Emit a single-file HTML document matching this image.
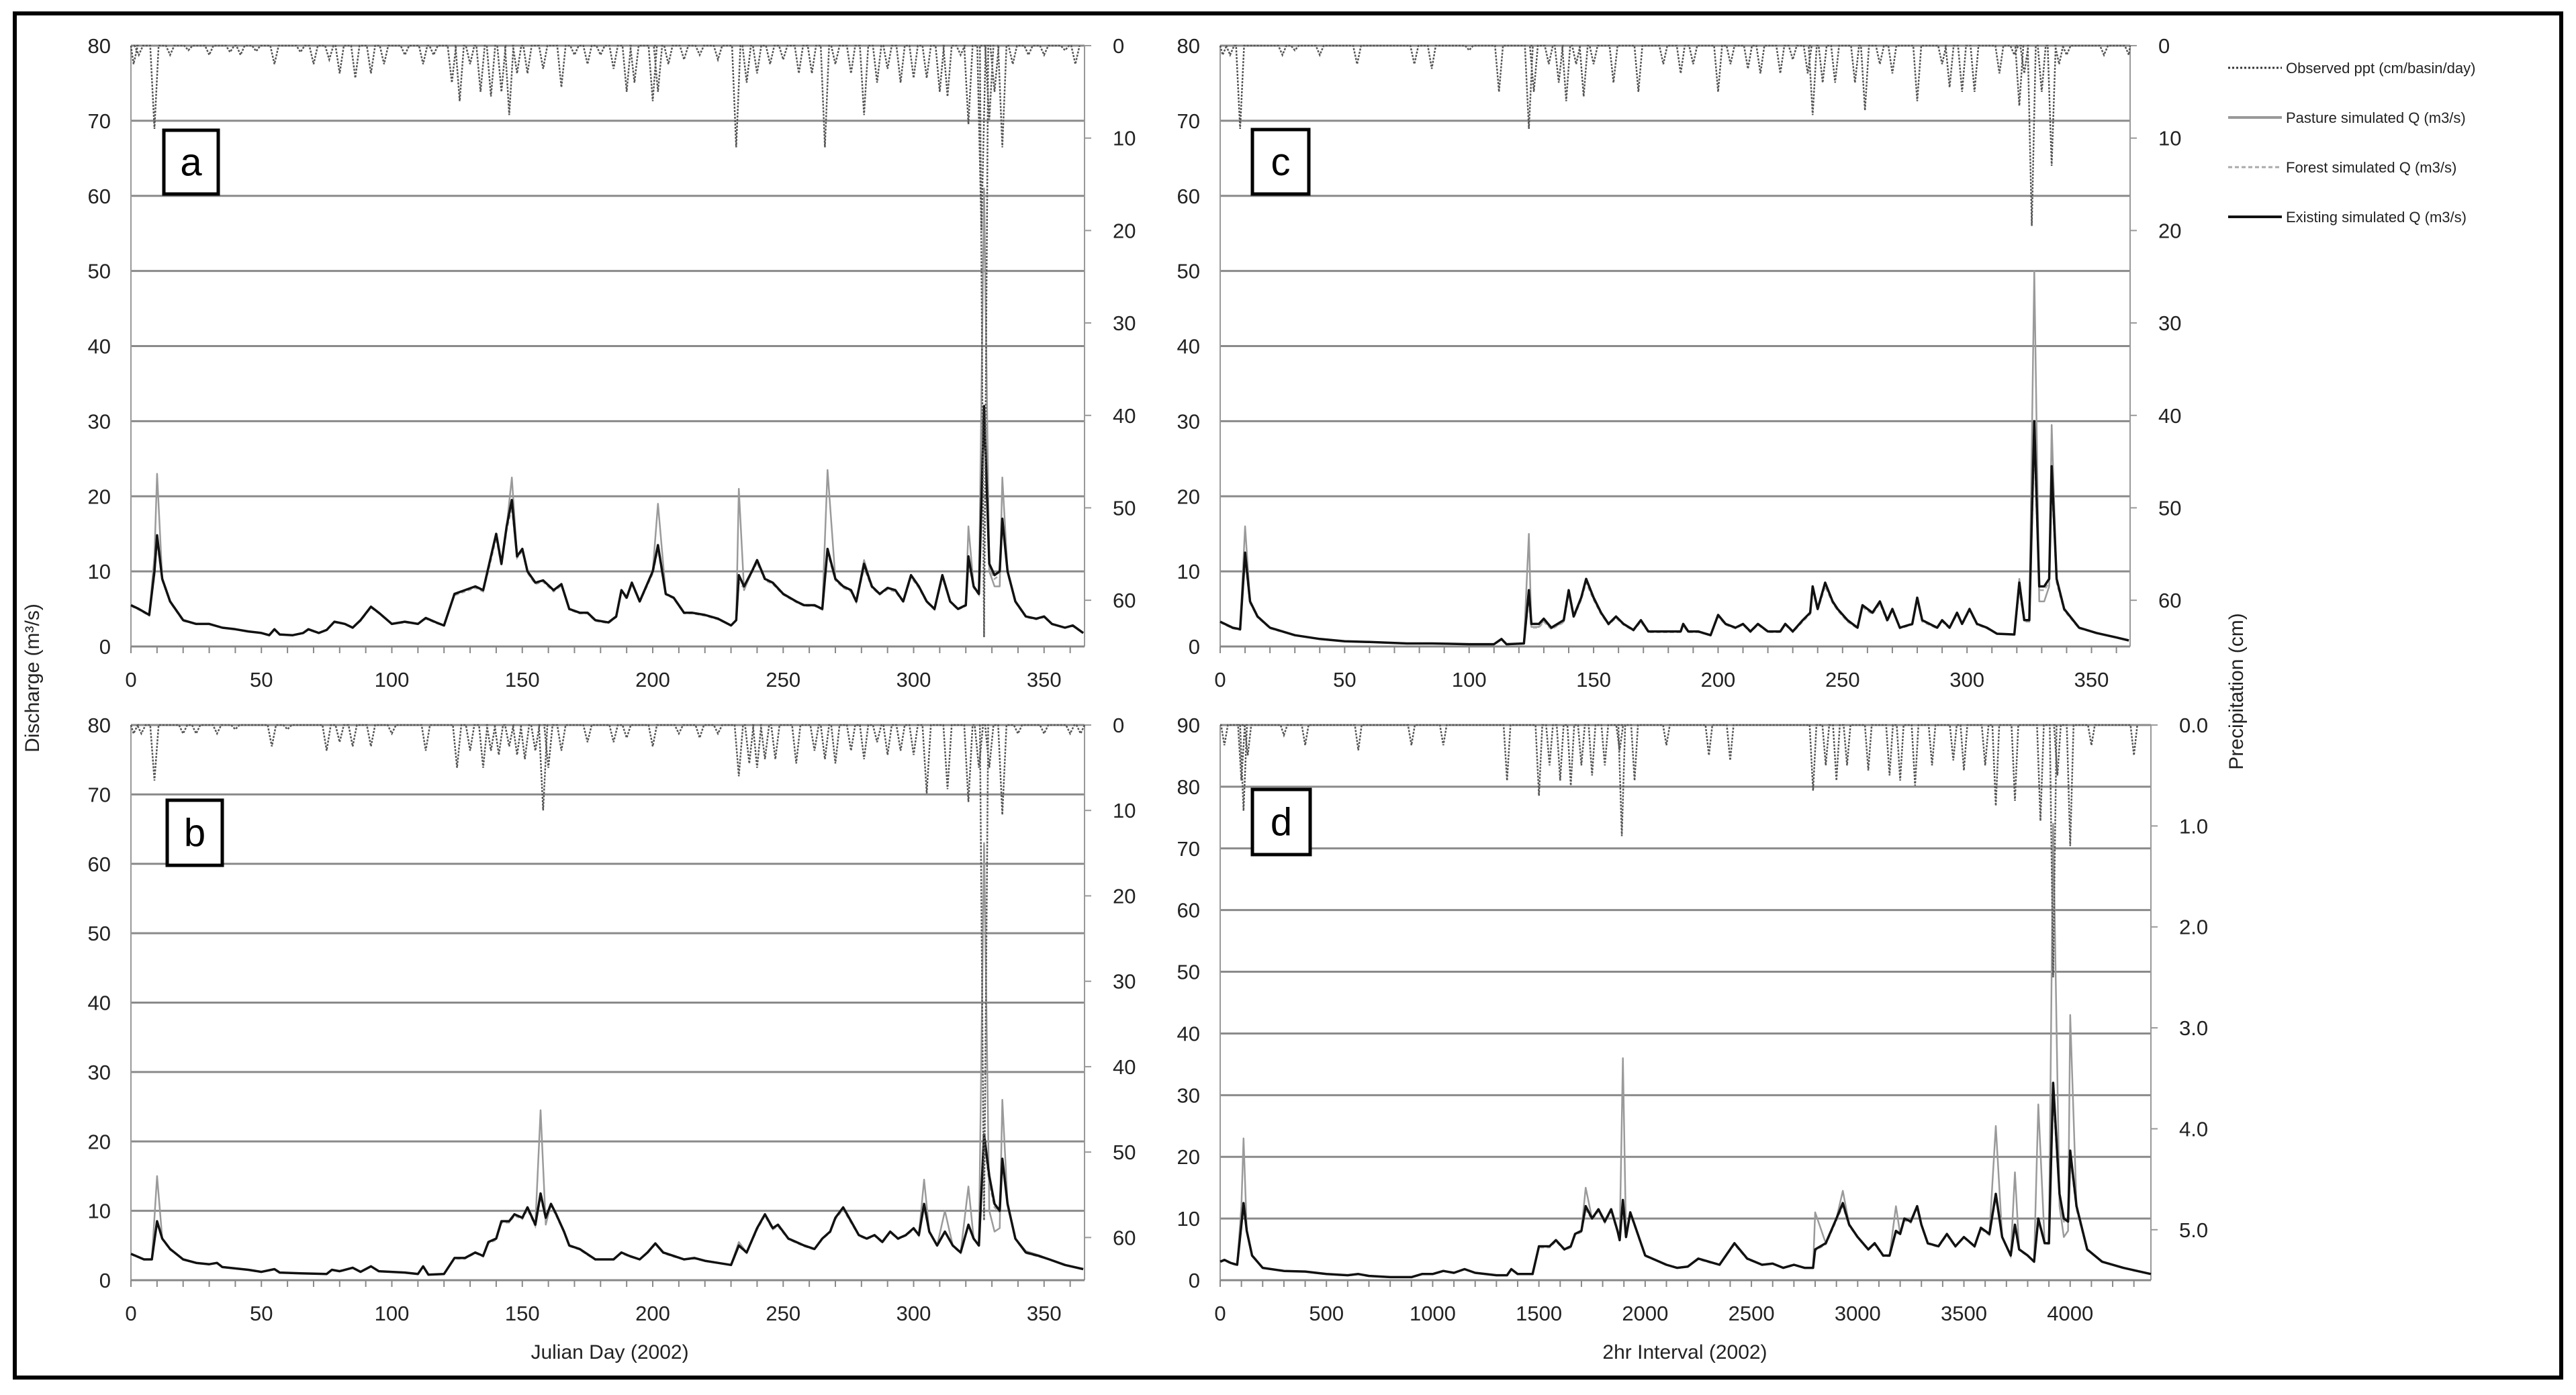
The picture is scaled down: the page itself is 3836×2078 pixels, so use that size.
<!DOCTYPE html>
<html><head><meta charset="utf-8">
<style>
html,body{margin:0;padding:0;background:#fff;}
svg{display:block;font-family:"Liberation Sans",sans-serif;}
</style></head>
<body>
<svg id="chart" width="3836" height="2078" viewBox="0 0 3836 2078" xmlns="http://www.w3.org/2000/svg">
<rect x="22" y="20" width="3792" height="2032" fill="#fff" stroke="#000" stroke-width="6"/>
<g id="panels"></g>
<text transform="translate(58,1010) rotate(-90)" text-anchor="middle" font-size="30" fill="#222">Discharge (m³/s)</text>
<text transform="translate(3340,1030) rotate(-90)" text-anchor="middle" font-size="30" fill="#222">Precipitation (cm)</text>
<text x="908" y="2024" text-anchor="middle" font-size="30" fill="#222">Julian Day (2002)</text>
<text x="2509" y="2024" text-anchor="middle" font-size="30" fill="#222">2hr Interval (2002)</text>
<g>
<g><line x1="3318" y1="101" x2="3398" y2="101" stroke="#333" stroke-width="3" stroke-dasharray="3,3"/><text x="3404" y="109" font-size="22" fill="#222">Observed ppt (cm/basin/day)</text></g>
<g><line x1="3318" y1="175" x2="3398" y2="175" stroke="#999" stroke-width="4"/><text x="3404" y="183" font-size="22" fill="#222">Pasture simulated Q (m3/s)</text></g>
<g><line x1="3318" y1="249" x2="3398" y2="249" stroke="#aaa" stroke-width="3" stroke-dasharray="6,4"/><text x="3404" y="257" font-size="22" fill="#222">Forest simulated Q (m3/s)</text></g>
<g><line x1="3318" y1="323" x2="3398" y2="323" stroke="#111" stroke-width="4"/><text x="3404" y="331" font-size="22" fill="#222">Existing simulated Q (m3/s)</text></g>
</g>
</svg>
<script>
// ---------- Panel a (daily) ----------
const aDays=[0,3,7,9,10,12,15,20,25,30,35,40,45,50,53,55,57,62,66,68,72,75,78,82,85,88,92,95,100,105,110,113,117,120,124,128,132,135,138,140,142,144,146,148,150,152,155,158,162,165,168,172,175,178,183,186,188,190,192,195,200,202,205,208,212,215,220,225,230,232,233,235,238,240,243,246,250,255,258,262,265,267,270,273,276,278,281,284,287,290,293,296,299,302,305,308,311,314,317,320,321,323,325,327,329,331,333,334,336,339,343,347,350,353,358,361,365];
const aExisting=[5.5,5,4.2,10,14.8,9,6,3.5,3,3,2.5,2.3,2,1.8,1.5,2.3,1.6,1.5,1.8,2.3,1.8,2.2,3.3,3,2.5,3.5,5.3,4.5,3,3.3,3,3.8,3.2,2.8,7,7.5,8,7.5,12,15,11,16,19.5,12,13,10,8.5,8.8,7.5,8.3,5,4.5,4.5,3.5,3.2,4,7.5,6.5,8.5,6,10,13.5,7,6.5,4.5,4.5,4.2,3.7,2.8,3.5,9.5,8,10,11.5,9,8.5,7,6,5.5,5.5,5,13,9,8,7.5,6,11,8,7,7.8,7.5,6,9.5,8,6,5,9.5,6,5,5.5,12,8,7,32,11,9.5,10,17,10,6,4,3.7,4,3,2.5,2.8,1.8];
const aPasture=[5.5,5,4.2,12,23,9,6,3.5,3,3,2.5,2.3,2,1.8,1.5,2.3,1.6,1.5,1.8,2.3,1.8,2.2,3.3,3,2.5,3.5,5.3,4.5,3,3.3,3,3.8,3.2,2.8,7,7.5,8,7.5,12,15,11,16,22.5,12,13,10,8.5,8.8,7.5,8.3,5,4.5,4.5,3.5,3.2,4,7.5,6.5,8.5,6,10,19,7,6.5,4.5,4.5,4.2,3.7,2.8,3.5,21,7.5,10,11.5,9,8.5,7,6,5.5,5.5,5,23.5,9,8,7.5,6,11.5,8,7,7.8,7.5,6,9.5,8,6,5,9.5,6,5,5.5,16,8,7,61,10,8,8,22.5,10,6,4,3.7,4,3,2.5,2.8,1.8];
const aForest=[5.4,4.9,4.1,9.5,14,8.8,5.9,3.4,3,3,2.5,2.3,2,1.8,1.5,2.2,1.6,1.5,1.8,2.2,1.8,2.2,3.2,3,2.5,3.4,5.2,4.4,3,3.2,3,3.7,3.1,2.8,6.8,7.3,7.8,7.3,11.5,14.5,10.8,15.5,18.5,11.8,12.7,9.8,8.3,8.6,7.3,8.1,4.9,4.4,4.4,3.4,3.1,3.9,7.3,6.3,8.3,5.9,9.7,13,6.9,6.4,4.4,4.4,4.1,3.6,2.8,3.4,8.5,7.8,9.8,11.2,8.8,8.3,6.9,5.9,5.4,5.4,4.9,12.5,8.8,7.8,7.3,5.9,10.5,7.8,6.9,7.6,7.3,5.9,9.2,7.8,5.9,4.9,9.2,5.9,4.9,5.4,11.5,7.8,6.9,30,10.5,9,9.5,16.5,9.8,5.9,3.9,3.6,3.9,3,2.5,2.7,1.8];
const aPptDays=[1,3,9,15,22,30,38,42,48,55,65,70,76,80,86,92,97,105,112,116,123,126,130,134,138,142,145,148,152,158,165,170,175,180,185,190,193,200,202,206,212,218,225,232,236,240,245,250,256,261,266,270,276,281,286,290,295,300,305,310,313,318,321,326,327,329,331,334,338,344,350,358,362];
const aPptVals=[2,1,9,1,0.5,1,0.7,1,0.6,2,0.7,2,1.5,3,3.5,3,2,1,2,1,4,6,2,5,5.5,5,7.5,3,3,2.5,4.5,1,2,1,2.5,5,4,6,5,2,1.5,1,1.5,11,4,3,2,1.5,3,3,11,2,3,7.5,4,2.5,4,3.5,3.5,5,5.5,1,8.5,20,64,8,5,11,2,1,1,0.5,2];

// ---------- Panel b (daily) ----------
const bDays=[0,5,8,10,12,15,20,25,30,33,35,45,50,55,57,65,75,77,80,85,88,92,95,105,110,112,114,120,124,128,132,135,137,140,142,145,147,150,152,155,157,159,161,163,166,168,172,176,178,185,188,191,195,198,201,204,208,212,216,220,225,230,233,236,240,243,246,248,252,255,258,262,265,268,270,273,276,279,282,285,288,291,294,297,300,302,304,306,309,312,315,318,321,323,325,327,329,331,333,334,336,339,343,348,352,358,365];
const bExisting=[3.8,3,3,8.5,6,4.5,3,2.5,2.3,2.5,1.9,1.5,1.2,1.6,1.1,1,0.9,1.5,1.3,1.8,1.2,2,1.3,1.1,0.9,2,0.8,0.9,3.2,3.2,4,3.5,5.5,6,8.5,8.5,9.5,9,10.5,8,12.5,9,11,9.5,7,5,4.5,3.5,3,3,4,3.5,3,4,5.3,4,3.5,3,3.2,2.8,2.5,2.2,5,4,7.5,9.5,7.5,8,6,5.5,5,4.5,6,7,9,10.5,8.5,6.5,6,6.5,5.5,7,6,6.5,7.5,6.5,11,7,5,7,5,4,8,6,5,21,15,11,10,17.5,11,6,4,3.5,3,2.2,1.6];
const bPasture=[3.8,3,3,15,6,4.5,3,2.5,2.3,2.5,1.9,1.5,1.2,1.6,1.1,1,0.9,1.5,1.3,1.8,1.2,2,1.3,1.1,0.9,2,0.8,0.9,3.2,3.2,4,3.5,5.5,6,8.5,8.5,9.5,9,10.5,8,24.5,8,11,9.5,7,5,4.5,3.5,3,3,4,3.5,3,4,5.3,4,3.5,3,3.2,2.8,2.5,2.2,5.5,4,7.5,9.5,7.5,8,6,5.5,5,4.5,6,7,9,10.5,8.5,6.5,6,6.5,5.5,7,6,6.5,7.5,6.5,14.5,7,5,10,5,4,13.5,6,5,63,10,7,7.5,26,11,6,4.2,3.6,3,2.2,1.6];
const bForest=[3.7,3,3,8.2,5.9,4.4,3,2.5,2.3,2.5,1.9,1.5,1.2,1.6,1.1,1,0.9,1.5,1.3,1.8,1.2,2,1.3,1.1,0.9,1.9,0.8,0.9,3.1,3.1,3.9,3.4,5.3,5.8,8.3,8.3,9.3,8.8,10.2,7.8,12,8.8,10.7,9.3,6.9,4.9,4.4,3.4,3,3,3.9,3.4,3,3.9,5.2,3.9,3.4,3,3.1,2.8,2.5,2.2,4.9,3.9,7.3,9.3,7.3,7.8,5.9,5.4,4.9,4.4,5.9,6.9,8.8,10.2,8.3,6.4,5.9,6.4,5.4,6.9,5.9,6.4,7.3,6.4,10.5,6.9,4.9,6.9,4.9,3.9,7.8,5.9,4.9,20,14,10.5,9.8,17,10.8,5.9,3.9,3.4,3,2.2,1.6];
const bPptDays=[1,4,9,20,25,33,40,54,60,75,80,85,92,100,113,125,130,135,138,141,145,148,151,155,158,160,165,175,185,190,200,210,218,225,233,237,240,243,247,255,262,266,270,276,281,286,290,295,300,305,313,321,325,327,329,334,340,350,360,364];
const bPptVals=[1,1,6.5,1,1,1,0.5,2.5,0.5,3,2,2.5,2.5,1,3,5,3,5,3,3.5,2.5,3.5,4,3,10,5,3,2,2,1.5,2.5,1,1.5,1,6,4.5,5,4,4,4.5,3,4,4.5,3,4,2,3.5,3,3.5,8,7.5,9,5,58,5,10.5,1,1,1,1];

// ---------- Panel c (daily) ----------
const cDays=[0,5,8,10,12,15,20,30,40,50,60,75,85,100,110,113,115,122,124,125,128,130,133,138,140,142,145,147,150,153,156,159,162,166,169,172,178,185,186,188,192,197,200,203,207,210,213,216,220,225,227,230,234,237,238,240,243,246,248,252,256,258,262,265,268,270,273,278,280,282,288,290,293,296,298,301,304,308,312,319,321,323,325,327,329,331,333,334,336,339,345,352,360,365];
const cExisting=[3.3,2.5,2.3,12.5,6,4,2.5,1.5,1,0.7,0.6,0.4,0.4,0.3,0.3,1,0.3,0.4,7.5,3,3,3.7,2.5,3.5,7.5,4,6.5,9,6.5,4.5,3,4,3,2.2,3.5,2,2,2,3,2,2,1.5,4.2,3,2.5,3,2,3,2,2,3,2,3.5,4.5,8,5,8.5,6,5,3.5,2.5,5.5,4.5,6,3.5,5,2.5,3,6.5,3.5,2.5,3.5,2.5,4.5,3,5,3,2.5,1.7,1.6,8.5,3.5,3.5,30,8,8,9,24,9,5,2.5,1.8,1.2,0.8];
const cPasture=[3.3,2.5,2.3,16,6,4,2.5,1.5,1,0.7,0.6,0.4,0.4,0.3,0.3,1,0.3,0.4,15,2.6,2.6,3.5,2.4,3.3,7.5,4,6.5,9,6.5,4.5,3,4,3,2.2,3.5,2,2,2,3,2,2,1.5,4.2,3,2.5,3,2,3,2,2,3,2,3.5,4.5,8,5,8.5,6,5,3.5,2.5,5.5,4.5,6,3.5,5,2.5,3,6.5,3.5,2.5,3.5,2.5,4.5,3,5,3,2.5,1.7,1.6,9,3.5,3.5,50,6,6,8,29.5,9,5,2.5,1.8,1.2,0.8];
const cForest=[3.2,2.4,2.2,11.5,5.8,3.9,2.4,1.5,1,0.7,0.6,0.4,0.4,0.3,0.3,0.9,0.3,0.4,6.5,2.5,2.5,3.3,2.3,3.2,7,3.8,6.2,8.5,6.2,4.3,2.9,3.8,2.9,2.1,3.3,1.9,1.9,1.9,2.8,1.9,1.9,1.5,4,2.9,2.4,2.9,1.9,2.9,1.9,1.9,2.9,1.9,3.3,4.3,7.5,4.8,8,5.8,4.8,3.3,2.4,5.2,4.3,5.7,3.3,4.8,2.4,2.9,6.2,3.3,2.4,3.3,2.4,4.3,2.9,4.8,2.9,2.4,1.7,1.6,7.5,3.3,3.3,27,7.5,7.5,8.5,22,8.5,4.8,2.4,1.8,1.2,0.8];
const cPptDays=[1,4,8,25,30,40,55,78,85,100,112,124,126,132,136,139,143,146,150,158,168,178,185,190,200,205,212,217,225,230,236,238,242,247,255,259,265,270,280,290,293,298,303,313,319,321,323,326,330,334,337,340,355,365];
const cPptVals=[1,1,9,1,0.5,1,2,2,2.5,0.5,5,9,5,2,4,6,2,5.5,2,4,5,2,3,2,5,2,2.5,3,3,1.5,3,7.5,4,4,4,7,2,3,6,2,4.5,5,5,3,1,6.5,3,19.5,5,13,2,1,1,1];

// ---------- Panel d (2-hr interval) ----------
const dSteps=[0,20,50,80,100,110,125,150,200,300,400,500,600,650,700,800,900,950,1000,1050,1100,1150,1200,1300,1350,1370,1400,1470,1500,1550,1580,1620,1650,1670,1700,1720,1750,1780,1810,1840,1870,1880,1895,1910,1930,1950,2000,2100,2150,2200,2250,2300,2350,2420,2480,2550,2600,2650,2700,2750,2790,2800,2850,2900,2930,2960,3000,3050,3080,3120,3150,3180,3200,3220,3250,3280,3300,3330,3380,3420,3460,3500,3550,3580,3620,3650,3680,3720,3740,3760,3800,3830,3850,3880,3900,3920,3950,3970,3990,4000,4030,4080,4150,4250,4380];
const dExisting=[3,3.3,2.8,2.5,9,12.5,8,4,2,1.5,1.4,1,0.8,1,0.7,0.5,0.5,1,1,1.5,1.2,1.8,1.2,0.8,0.8,1.8,1,1,5.5,5.5,6.5,5,5.5,7.5,8,12,10,11.5,9.5,11.5,8,6.5,13,7,11,9,4,2.5,2,2.2,3.5,3,2.5,6,3.5,2.5,2.7,2,2.5,2,2,5,6,10,12.5,9,7,5,6,4,4,8,7.5,10,9.5,12,9,6,5.5,7.5,5.5,7,5.5,8.5,7.5,14,7,4,9,5,4,3,10,6,6,32,14,10,9.5,21,12,5,3,2,1];
const dPasture=[3,3.3,2.8,2.5,12,23,8,4,2,1.5,1.4,1,0.8,1,0.7,0.5,0.5,1,1,1.5,1.2,1.8,1.2,0.8,0.8,1.8,1,1,5.5,5.5,6.5,5,5.5,7.5,8,15,10,11.5,9.5,11.5,8,6.5,36,7,11,9,4,2.5,2,2.2,3.5,3,2.5,6,3.5,2.5,2.7,2,2.5,2,2,11,6,10,14.5,9,7,5,6,4,4,12,7.5,10,9.5,12,9,6,5.5,7.5,5.5,7,5.5,8.5,7.5,25,7,4,17.5,5,4,3,28.5,6,6,74,12,7,8,43,12,5,3,2,1];
const dForest=[2.9,3.2,2.7,2.4,8.5,12,7.8,3.9,2,1.5,1.4,1,0.8,1,0.7,0.5,0.5,1,1,1.5,1.2,1.8,1.2,0.8,0.8,1.7,1,1,5.3,5.3,6.3,4.9,5.3,7.3,7.8,11.5,9.8,11.2,9.3,11.2,7.8,6.4,12.5,6.9,10.7,8.8,3.9,2.5,2,2.2,3.4,2.9,2.5,5.8,3.4,2.5,2.7,2,2.5,2,2,4.8,5.8,9.7,12,8.8,6.9,4.9,5.8,3.9,3.9,7.8,7.3,9.7,9.3,11.7,8.8,5.9,5.4,7.3,5.4,6.9,5.4,8.3,7.3,13.5,6.9,3.9,8.7,4.9,3.9,3,9.5,5.9,5.9,30,13.5,9.5,9.2,20,11.5,4.9,3,2,1];
const dPptSteps=[20,100,110,130,300,400,650,900,1050,1350,1500,1550,1600,1650,1700,1750,1810,1880,1890,1950,2100,2300,2400,2790,2850,2900,2950,3050,3150,3200,3270,3350,3450,3500,3600,3650,3740,3860,3920,3940,4000,4100,4300];
const dPptVals=[0.2,0.55,0.85,0.3,0.1,0.2,0.25,0.2,0.2,0.55,0.7,0.4,0.55,0.6,0.4,0.5,0.4,0.25,1.1,0.55,0.2,0.3,0.35,0.65,0.4,0.55,0.4,0.45,0.5,0.55,0.6,0.4,0.35,0.45,0.4,0.8,0.75,0.95,2.5,0.5,1.2,0.2,0.3];

// tick labels
const dayTicks=[0,50,100,150,200,250,300,350];
const stepTicks=[0,500,1000,1500,2000,2500,3000,3500,4000];
const qTicks80=[0,10,20,30,40,50,60,70,80];
const qTicks90=[0,10,20,30,40,50,60,70,80,90];
const pptTicksDay=[0,10,20,30,40,50,60];
const pptTicksD=[0,1,2,3,4,5];

const NS="http://www.w3.org/2000/svg";
const root=document.getElementById('panels');
function mk(tag,attrs,parent){const e=document.createElementNS(NS,tag);for(const k in attrs)e.setAttribute(k,attrs[k]);(parent||root).appendChild(e);return e;}

const panels=[
 {id:'a',x0:195,x1:1615,xMax:365.5,y0:963,y1:68,yMax:80,pMax:65,xt:dayTicks,minor:10,yt:qTicks80,pt:pptTicksDay,pf:0,
  xs:aDays,ex:aExisting,pa:aPasture,fo:aForest,px:aPptDays,pv:aPptVals,box:[244,194,81,95],spk:1.6},
 {id:'b',x0:195,x1:1615,xMax:365.5,y0:1907,y1:1080,yMax:80,pMax:65,xt:dayTicks,minor:10,yt:qTicks80,pt:pptTicksDay,pf:0,
  xs:bDays,ex:bExisting,pa:bPasture,fo:bForest,px:bPptDays,pv:bPptVals,box:[249,1192,82,97],spk:1.6},
 {id:'c',x0:1817,x1:3172,xMax:365.5,y0:963,y1:68,yMax:80,pMax:65,xt:dayTicks,minor:10,yt:qTicks80,pt:pptTicksDay,pf:0,
  xs:cDays,ex:cExisting,pa:cPasture,fo:cForest,px:cPptDays,pv:cPptVals,box:[1865,193,84,96],spk:1.6},
 {id:'d',x0:1817,x1:3203,xMax:4380,y0:1907,y1:1080,yMax:90,pMax:5.5,xt:stepTicks,minor:100,yt:qTicks90,pt:pptTicksD,pf:1,
  xs:dSteps,ex:dExisting,pa:dPasture,fo:dForest,px:dPptSteps,pv:dPptVals,box:[1865,1176,86,97],spk:16}
];

panels.forEach(P=>{
  const g=mk('g',{});
  
  
  const X=v=>P.x0+(v/P.xMax)*(P.x1-P.x0);
  const Y=v=>P.y0-(v/P.yMax)*(P.y0-P.y1);
  const YP=v=>P.y1+(v/P.pMax)*(P.y0-P.y1);
  P.yt.forEach(t=>{
    if(t>0){const l=mk('line',{x1:P.x0,x2:P.x1,y1:Y(t),y2:Y(t),stroke:'#8a8a8a','stroke-width':3},g);
    
    }
    const tx=mk('text',{x:P.x0-30,y:Y(t)+11,'text-anchor':'end','font-size':31,fill:'#222'},g);
    tx.textContent=t;
    
    
  });
  const la=mk('line',{x1:P.x0,x2:P.x0,y1:P.y1,y2:P.y0,stroke:'#999','stroke-width':2},g);
  
  
  const ra=mk('line',{x1:P.x1,x2:P.x1,y1:P.y1,y2:P.y0,stroke:'#999','stroke-width':2},g);
  
  
  const xa=mk('line',{x1:P.x0,x2:P.x1,y1:P.y0,y2:P.y0,stroke:'#888','stroke-width':3},g);
  
  
  for(let v=0;v<=P.xMax;v+=P.minor){mk('line',{x1:X(v),x2:X(v),y1:P.y0,y2:P.y0+10,stroke:'#888','stroke-width':2},g);}
  P.xt.forEach(t=>{
    const tx=mk('text',{x:X(t),y:P.y0+60,'text-anchor':'middle','font-size':31,fill:'#222'},g);
    tx.textContent=t;
    
    
  });
  P.pt.forEach(t=>{
    mk('line',{x1:P.x1,x2:P.x1+10,y1:YP(t),y2:YP(t),stroke:'#999','stroke-width':2},g);
    const tx=mk('text',{x:P.x1+42,y:YP(t)+11,'font-size':31,fill:'#222'},g);
    tx.textContent=P.pf?t.toFixed(1):t;
    
    
  });
  const path=(xs,ys)=>xs.map((x,i)=>(i?'L':'M')+X(x).toFixed(1)+','+Y(ys[i]).toFixed(1)).join('');
  const pp=mk('path',{d:path(P.xs,P.pa),fill:'none',stroke:'#9a9a9a','stroke-width':2.5,'stroke-linejoin':'round'},g);
  
  
  const fp=mk('path',{d:path(P.xs,P.fo),fill:'none',stroke:'#aaa','stroke-width':2.5,'stroke-dasharray':'6,4'},g);
  
  
  const ep=mk('path',{d:path(P.xs,P.ex),fill:'none',stroke:'#111','stroke-width':3.5,'stroke-linejoin':'round'},g);
  
  
  let d='M'+X(0)+','+YP(0);
  P.px.forEach((x,i)=>{d+='L'+X(Math.max(0,x-P.spk)).toFixed(1)+','+YP(0).toFixed(1)+'L'+X(x).toFixed(1)+','+YP(P.pv[i]).toFixed(1)+'L'+X(Math.min(P.xMax,x+P.spk)).toFixed(1)+','+YP(0).toFixed(1);});
  const ppt=mk('path',{d:d,fill:'none',stroke:'#555','stroke-width':2.5,'stroke-dasharray':'3,2'},g);
  
  
  const bx=mk('rect',{x:P.box[0],y:P.box[1],width:P.box[2],height:P.box[3],fill:'#fff',stroke:'#000','stroke-width':5},g);
  
  
  const bt=mk('text',{x:P.box[0]+P.box[2]/2,y:P.box[1]+P.box[3]/2+20,'text-anchor':'middle','font-size':58,fill:'#000'},g);
  bt.textContent=P.id;
  
  
});
</script>
</body></html>
